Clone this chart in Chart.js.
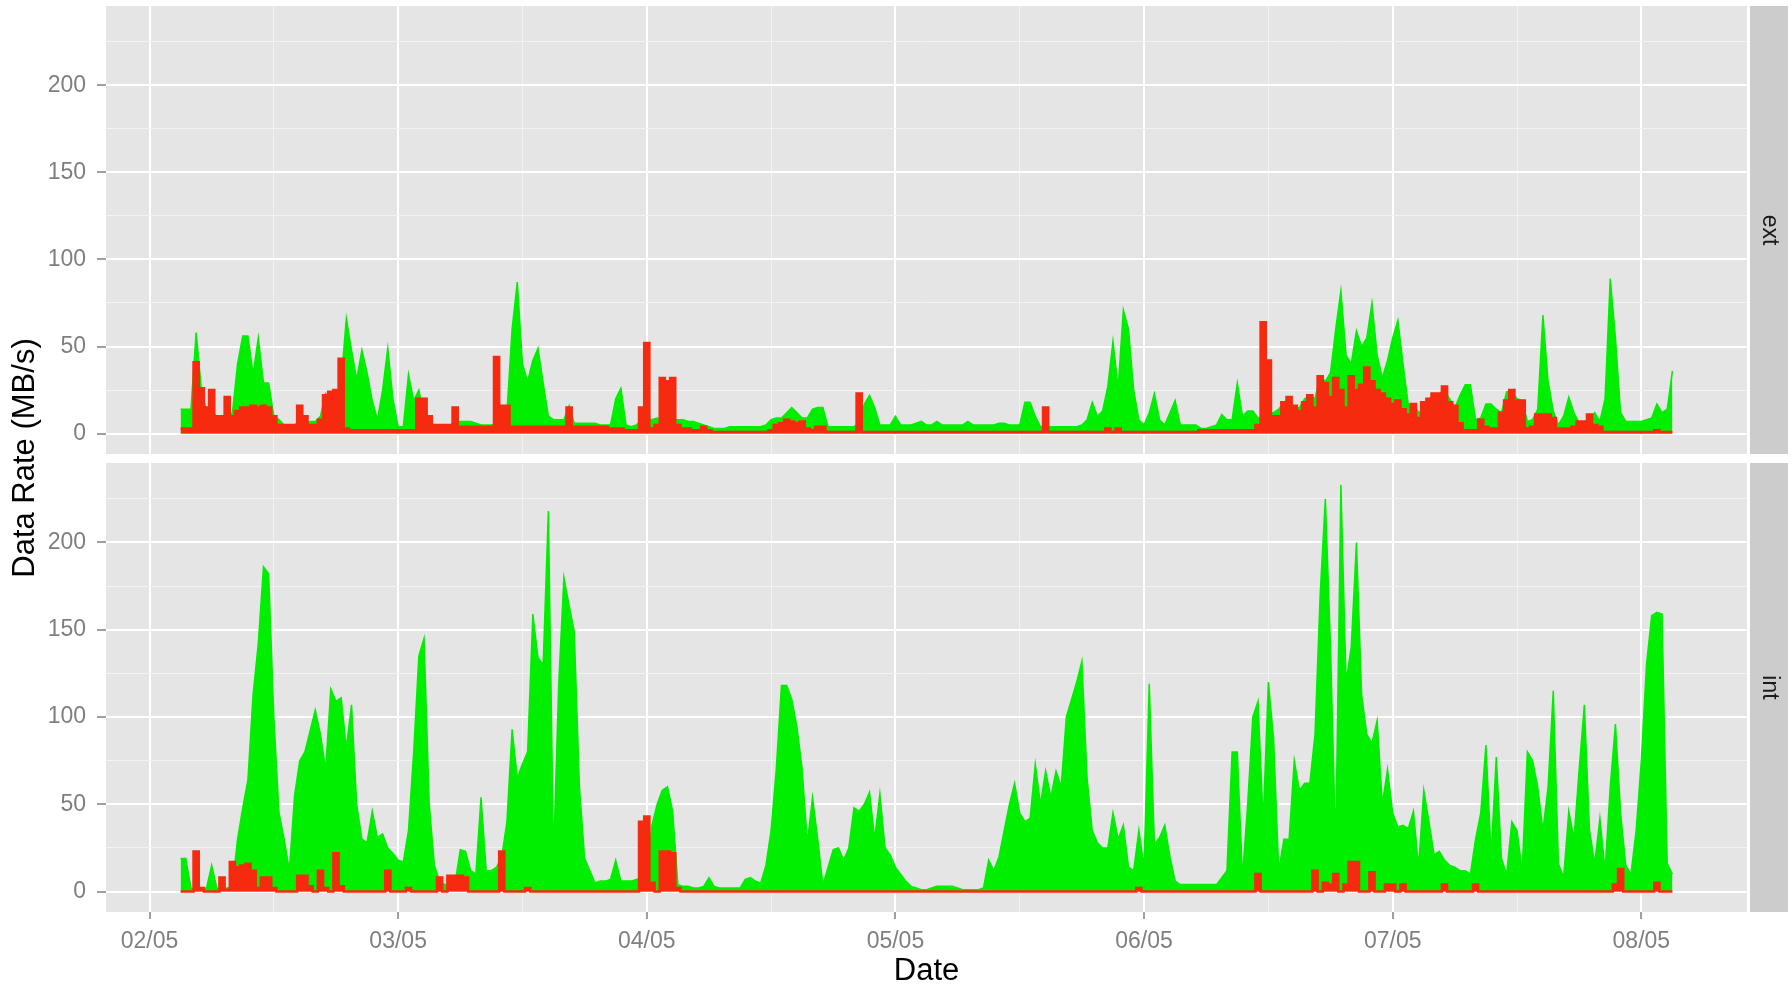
<!DOCTYPE html>
<html>
<head>
<meta charset="utf-8">
<title>Data Rate</title>
<script src="https://cdn.jsdelivr.net/npm/chart.js@4.4.1/dist/chart.umd.min.js"></script>
<style>
  html, body { margin: 0; padding: 0; background: #ffffff; overflow: hidden; }
  #wrap { position: relative; width: 1792px; height: 985px; }
  #wrap canvas { position: absolute; left: 0; top: 0; }
</style>
</head>
<body>
<div id="wrap">
  <canvas id="extChart" width="1792" height="985"></canvas>
  <canvas id="intChart" width="1792" height="985"></canvas>
</div>
<script>
// ---------------------------Data------------------------------------------------
// samples every 30 min, first one at 02/05 03:00 (x axis is hours since 02/05 00:00)
const startHour = 3;
const stepHours = 0.5;

const dayLabels = ['02/05', '03/05', '04/05', '05/05', '06/05', '07/05', '08/05'];
const yTickValues = [0, 50, 100, 150, 200];
const facetLabels = ['ext', 'int'];

// ext panel, green series (one line = 12 hours)
const extGreen = [
  14,14,14,58,26,13,12,10,10,10,12,40,56,56,34,55,29,29,10,8,5,5,5,7,
  7,7,7,10,23,20,11,30,66,48,31,48,35,19,8,25,49,20,4,4,34,19,25,10,
  5,5,5,5,5,6,7,7,7,6,5,5,5,6,8,12,60,87,40,30,42,49,29,10,
  8,8,8,16,6,6,6,6,6,5,5,5,20,26,5,4,5,8,9,8,9,8,9,8,
  8,8,7,7,6,5,4,3,3,3,4,4,4,4,4,4,4,5,8,9,9,12,15,12,
  9,9,14,15,15,4,4,4,4,4,4,6,17,22,15,5,5,5,10,5,5,5,6,7,
  5,5,7,5,5,5,5,5,7,5,5,5,5,5,6,6,5,5,5,18,18,10,4,4,
  4,4,4,4,4,4,5,8,18,10,13,27,53,26,71,60,25,8,5,12,23,8,5,12,
  19,5,5,5,5,3,3,4,5,11,8,8,29,10,13,13,9,10,12,12,14,18,20,14,
  15,20,22,20,33,30,35,60,82,45,40,59,50,55,75,45,32,42,55,65,40,17,17,12,
  14,20,22,23,25,20,15,22,28,28,8,9,17,17,14,12,24,24,20,19,7,8,14,68,
  30,13,5,10,21,12,6,7,8,12,7,20,89,55,12,7,7,7,7,8,9,17,12,14,
  36
];

// ext panel, red series
const extRed = [
  3,3,3,41,26,15,25,10,10,21,10,13,15,15,16,15,16,15,10,5,5,5,5,16,
  10,5,5,8,22,24,25,43,3,2,2,2,2,2,2,2,2,2,2,2,2,2,20,20,
  10,5,5,5,5,15,4,4,4,4,4,4,4,44,16,16,4,4,4,4,4,4,4,4,
  4,4,4,15,4,4,4,4,4,4,4,3,3,3,2,2,2,15,52,3,5,32,30,32,
  5,3,3,2,2,4,2,1,1,1,1,1,1,1,1,1,1,1,2,5,6,8,7,6,
  7,3,2,4,4,1,1,1,1,1,1,23,1,1,1,1,1,1,1,1,1,1,1,1,
  1,1,1,1,1,1,1,1,1,1,1,1,1,1,1,1,1,1,1,1,1,1,1,15,
  1,1,1,1,1,1,1,1,1,1,1,3,1,3,1,1,1,1,1,1,1,1,1,1,
  1,1,1,1,1,2,2,2,2,2,2,2,2,2,2,2,5,64,42,10,10,18,21,16,
  13,18,22,15,33,29,21,32,25,15,33,25,28,38,30,25,23,20,17,19,14,11,17,9,
  18,20,23,23,27,18,16,6,2,2,2,8,4,3,3,12,19,25,19,19,3,4,11,11,
  11,9,3,3,3,4,7,7,11,5,4,1,1,1,1,1,1,1,1,1,1,2,1,1,
  1
];

// int panel, green series
const intGreen = [
  19,19,2,1,1,2,15,2,1,2,3,30,48,64,113,142,186,182,100,45,30,12,55,75,
  80,92,104,90,70,116,109,111,82,107,50,30,28,46,31,33,25,22,18,17,35,80,135,145,
  50,15,6,4,4,5,24,23,12,10,54,12,12,14,20,40,93,65,73,80,159,134,130,218,
  20,119,180,164,149,60,19,12,5,6,6,7,18,6,6,6,7,8,10,38,50,58,60,46,
  4,3,3,2,2,3,8,3,2,2,2,2,2,7,8,6,5,15,35,70,118,118,110,94,
  70,28,54,30,4,14,24,25,18,25,48,46,50,57,30,56,25,21,14,10,6,3,2,1,
  1,2,3,3,3,3,2,1,1,1,1,2,18,12,20,35,50,62,45,40,42,73,50,69,
  54,69,60,100,110,120,132,65,35,28,25,25,45,30,38,14,12,35,14,119,27,31,38,20,
  6,4,4,4,4,4,4,4,4,8,12,80,80,8,50,100,109,40,120,88,12,30,30,75,
  58,62,62,90,170,225,140,25,233,120,140,200,113,90,85,98,50,70,45,37,38,36,46,14,
  58,40,21,23,18,15,14,12,12,10,30,45,84,21,77,19,10,40,35,12,80,75,60,35,
  60,115,16,8,46,30,70,107,35,16,42,12,60,96,45,15,10,35,75,130,158,160,159,16,
  10
];

// int panel, red series
const intRed = [
  0,0,0,23,2,0,0,0,8,1,17,14,15,16,12,2,8,8,2,0,0,0,0,9,
  9,3,0,12,2,0,22,3,0,0,0,0,0,0,0,0,12,0,0,0,2,0,0,0,
  0,0,8,0,9,9,9,8,0,0,0,0,0,0,23,0,0,0,0,2,0,0,0,0,
  0,0,0,0,0,0,0,0,0,0,0,0,0,0,0,0,0,40,43,5,0,23,23,22,
  2,0,0,0,0,0,0,0,0,0,0,0,0,0,0,0,0,0,0,0,0,0,0,0,
  0,0,0,0,0,0,0,0,0,0,0,0,0,0,0,0,0,0,0,0,0,0,0,0,
  0,0,0,0,0,0,0,0,0,0,0,0,0,0,0,0,0,0,0,0,0,0,0,0,
  0,0,0,0,0,0,0,0,0,0,0,0,0,0,0,0,0,2,0,0,0,0,0,0,
  0,0,0,0,0,0,0,0,0,0,0,0,0,0,0,0,10,0,0,0,0,0,0,0,
  0,0,0,12,0,5,4,10,0,4,17,17,0,0,11,0,0,4,4,0,4,0,0,0,
  0,0,0,0,4,0,0,0,0,0,4,0,0,0,0,0,0,0,0,0,0,0,0,0,
  0,0,0,0,0,0,0,0,0,0,0,0,0,4,13,0,0,0,0,0,0,5,0,0,
  0
];
// ----------------------------------------------------------------------------------------------

const GREEN = '#00EE00';
const RED = '#F52A0E';
const FONT = "'Liberation Sans', Arial, sans-serif";

const hours = extGreen.map((_, i) => startHour + i * stepHours);
const toPoints = vals => vals.map((v, i) => ({ x: hours[i], y: v }));

// major + minor breaks (minor ones get the lighter grid line)
const xBreaks = [];
for (let h = 0; h <= 144; h += 12) xBreaks.push(h);
const yBreaks = [];
yTickValues.forEach(v => { yBreaks.push(v); yBreaks.push(v + 25); });

const isMajorX = v => v % 24 === 0;
const isMajorY = v => yTickValues.includes(v);

// keep the panel exactly where the layout padding puts it
const noScalePadding = s => {
  s.paddingTop = 0;
  s.paddingBottom = 0;
  s.paddingLeft = 0;
  s.paddingRight = 0;
};

// grey panel + facet strip on the right
const panelPlugin = {
  id: 'panel',
  beforeDraw(chart, args, opts) {
    const { ctx, chartArea: a } = chart;
    ctx.save();
    ctx.fillStyle = '#E5E5E5';
    ctx.fillRect(a.left, a.top, a.right - a.left, a.bottom - a.top);
    ctx.fillStyle = '#CCCCCC';
    ctx.fillRect(a.right + 3, a.top, 38, a.bottom - a.top);
    ctx.restore();
  },
  afterDraw(chart, args, opts) {
    const { ctx, chartArea: a } = chart;
    ctx.save();
    ctx.translate(a.right + 22, (a.top + a.bottom) / 2);
    ctx.rotate(Math.PI / 2);
    ctx.font = '23px ' + FONT;
    ctx.fillStyle = '#1A1A1A';
    ctx.textAlign = 'center';
    ctx.textBaseline = 'middle';
    ctx.fillText(opts.label, 0, 0);
    ctx.restore();
  }
};

// y title shared by both panels
const yTitlePlugin = {
  id: 'yTitle',
  afterDraw(chart, args, opts) {
    if (!opts.text) return;
    const ctx = chart.ctx;
    ctx.save();
    ctx.translate(opts.x, opts.y);
    ctx.rotate(-Math.PI / 2);
    ctx.font = '31px ' + FONT;
    ctx.fillStyle = '#000000';
    ctx.textAlign = 'center';
    ctx.textBaseline = 'middle';
    ctx.fillText(opts.text, 0, 0);
    ctx.restore();
  }
};

function makeChart(id, greenVals, redVals, label, top, bottom, showX) {
  const ctx = document.getElementById(id).getContext('2d');
  return new Chart(ctx, {
    type: 'line',
    data: {
      datasets: [{
        data: toPoints(redVals),
        borderColor: RED,
        backgroundColor: RED,
        borderWidth: 2.5,
        fill: 'origin',
        stepped: 'middle',
        pointRadius: 0,
        order: 1
      }, {
        data: toPoints(greenVals),
        borderColor: GREEN,
        backgroundColor: GREEN,
        borderWidth: 1.5,
        fill: 'origin',
        pointRadius: 0,
        order: 2
      }]
    },
    options: {
      responsive: false,
      animation: false,
      events: [],
      layout: { padding: { left: 0, right: 45, top: top, bottom: showX ? 0 : 985 - bottom } },
      plugins: {
        legend: { display: false },
        tooltip: { enabled: false },
        panel: { label: label },
        yTitle: showX ? { text: 'Data Rate (MB/s)', x: 25, y: 458 } : {}
      },
      scales: {
        x: {
          type: 'linear',
          min: -4.2,
          max: 154.2,
          afterBuildTicks: s => { s.ticks = xBreaks.map(v => ({ value: v })); },
          afterFit: s => { s.height = showX ? 985 - bottom : 0; noScalePadding(s); },
          border: { display: false },
          grid: {
            color: c => isMajorX(c.tick.value) ? '#FFFFFF' : '#F2F2F2',
            lineWidth: c => isMajorX(c.tick.value) ? 2 : 1,
            drawTicks: showX,
            tickLength: 7,
            tickWidth: 1.5,
            tickColor: c => isMajorX(c.tick.value) ? '#7F7F7F' : 'rgba(0,0,0,0)'
          },
          ticks: {
            display: showX,
            autoSkip: false,
            maxRotation: 0,
            padding: 9,
            color: '#7F7F7F',
            font: { family: FONT, size: 23 },
            callback: v => isMajorX(v) ? dayLabels[v / 24] : ''
          },
          title: {
            display: showX,
            text: 'Date',
            color: '#000000',
            padding: 0,
            font: { family: FONT, size: 31, lineHeight: 0.85 }
          }
        },
        y: {
          min: -11.7,
          max: 245.5,
          afterBuildTicks: s => { s.ticks = yBreaks.map(v => ({ value: v })); },
          afterFit: s => { s.width = 106; noScalePadding(s); },
          border: { display: false },
          grid: {
            color: c => isMajorY(c.tick.value) ? '#FFFFFF' : '#F2F2F2',
            lineWidth: c => isMajorY(c.tick.value) ? 2 : 1,
            tickLength: 9,
            tickWidth: 1.5,
            tickColor: c => isMajorY(c.tick.value) ? '#7F7F7F' : 'rgba(0,0,0,0)'
          },
          ticks: {
            padding: 11,
            color: '#7F7F7F',
            font: { family: FONT, size: 23 },
            callback: v => isMajorY(v) ? String(v) : ''
          }
        }
      }
    },
    plugins: [panelPlugin, yTitlePlugin]
  });
}

makeChart('extChart', extGreen, extRed, facetLabels[0], 6, 454, false);
makeChart('intChart', intGreen, intRed, facetLabels[1], 463, 912, true);
</script>
</body>
</html>
